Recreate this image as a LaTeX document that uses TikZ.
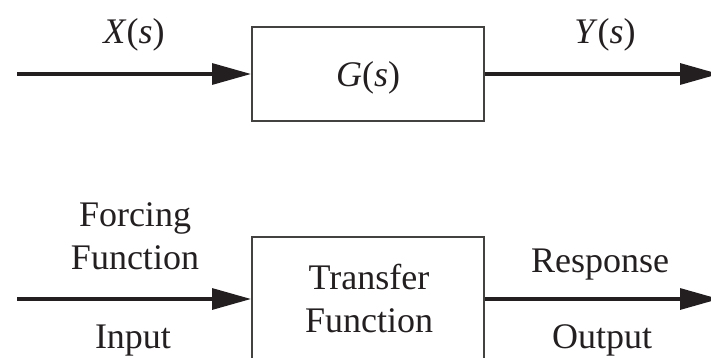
\documentclass[tikz,border=0pt]{standalone}
\usepackage{fontspec}
\setmainfont{Liberation Serif}
\usetikzlibrary{arrows.meta}
\definecolor{ink}{HTML}{231F20}
\tikzset{
  blockbox/.style={draw=ink!85, line width=2pt, minimum width=232pt, inner sep=0pt},
  signal/.style={draw=ink, line width=3.2pt, -{Triangle[length=39pt,width=21pt]}},
  lbl/.style={text=ink, anchor=base, inner sep=0pt, align=center,
              font=\fontsize{36}{43}\selectfont},
}
\begin{document}
\begin{tikzpicture}[x=1pt,y=-1pt]
\useasboundingbox (0,0) rectangle (711,358);
\clip (0,0) rectangle (711,358);
% top diagram
\node[blockbox, minimum height=94pt] (gbox) at (368,74) {};
\coordinate (xin) at (17,74);
\coordinate (yout) at (719,74);
\draw[signal] (xin) -- (gbox.west);
\draw[signal] (gbox.east) -- (yout);
\node[lbl] (xs) at (134,44) {\textit{X}(\textit{s})};
\node[lbl] (ys) at (605,44) {\textit{Y}(\textit{s})};
\node[lbl] (gs) at (368,87) {\textit{G}(\textit{s})};
% bottom diagram
\node[blockbox, minimum height=160pt] (tbox) at (368,317) {};
\coordinate (fin) at (17,299);
\coordinate (rout) at (719,299);
\draw[signal] (fin) -- (fin -| tbox.west);
\draw[signal] (rout -| tbox.east) -- (rout);
\node[lbl] (forcing) at (135,269) {Forcing\\Function};
\node[lbl] (input) at (133,348) {Input};
\node[lbl] (tf) at (369,332) {Transfer\\Function};
\node[lbl] (resp) at (600,272) {Response};
\node[lbl] (outp) at (602,348) {Output};
\end{tikzpicture}
\end{document}
